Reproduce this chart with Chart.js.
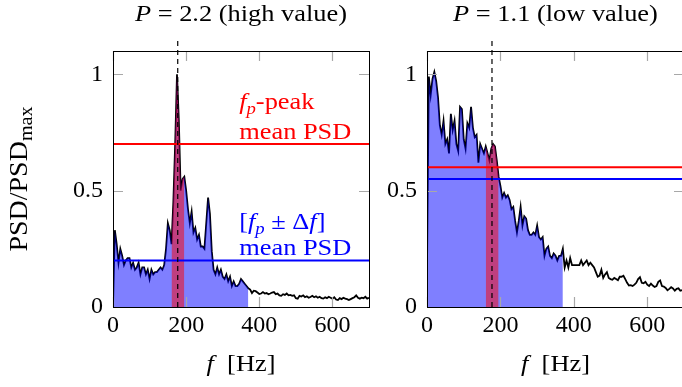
<!DOCTYPE html>
<html>
<head>
<meta charset="utf-8">
<script src="https://cdn.jsdelivr.net/npm/chart.js@4/dist/chart.umd.min.js"></script>
<style>
  body { margin: 0; background: #fff; }
  #wrap { position: relative; width: 682px; height: 387px; overflow: hidden; }
  canvas { position: absolute; top: 0; }
</style>
</head>
<body>
<div id="wrap">
  <canvas id="psdHighChart" width="380" height="387" style="left:0"></canvas>
  <canvas id="psdLowChart" width="320" height="387" style="left:380px"></canvas>
</div>
<script>
// Spectra sampled every 5 Hz, 0..700 Hz, normalised by their maximum
const FREQ_STEP = 5;

const psdHigh = [
  0.00, 0.33, 0.27, 0.19, 0.25, 0.22, 0.18, 0.20, 0.21, 0.21,
  0.17, 0.19, 0.16, 0.17, 0.19, 0.14, 0.17, 0.17, 0.14, 0.16,
  0.12, 0.16, 0.14, 0.15, 0.15, 0.16, 0.17, 0.16, 0.18, 0.25,
  0.36, 0.33, 0.27, 0.45, 0.70, 1.00, 0.80, 0.50, 0.55, 0.56,
  0.50, 0.42, 0.36, 0.41, 0.32, 0.34, 0.29, 0.31, 0.26, 0.26,
  0.25, 0.36, 0.47, 0.40, 0.24, 0.16, 0.14, 0.17, 0.14, 0.16,
  0.13, 0.12, 0.14, 0.11, 0.13, 0.09, 0.11, 0.09, 0.09, 0.10,
  0.12, 0.11, 0.10, 0.09, 0.08, 0.075, 0.06, 0.07, 0.068, 0.062,
  0.056, 0.058, 0.064, 0.058, 0.06, 0.055, 0.058, 0.062, 0.064, 0.055,
  0.058, 0.05, 0.048, 0.055, 0.052, 0.058, 0.05, 0.052, 0.048, 0.05,
  0.038, 0.036, 0.048, 0.045, 0.05, 0.042, 0.046, 0.04, 0.043, 0.048,
  0.042, 0.046, 0.04, 0.044, 0.038, 0.036, 0.042, 0.038, 0.044, 0.04,
  0.036, 0.042, 0.032, 0.03, 0.038, 0.034, 0.04, 0.036, 0.034, 0.03,
  0.034, 0.038, 0.042, 0.05, 0.04, 0.036, 0.04, 0.038, 0.044, 0.036,
  0.04
];

const psdLow = [
  0.17, 0.99, 0.91, 0.98, 1.01, 0.97, 0.90, 0.78, 0.74, 0.80,
  0.70, 0.72, 0.66, 0.83, 0.76, 0.80, 0.70, 0.67, 0.86, 0.85,
  0.72, 0.68, 0.79, 0.77, 0.86, 0.77, 0.73, 0.74, 0.62, 0.70,
  0.68, 0.66, 0.69, 0.66, 0.63, 0.68, 0.70, 0.69, 0.63, 0.56,
  0.52, 0.47, 0.49, 0.47, 0.48, 0.46, 0.42, 0.43, 0.37, 0.32,
  0.37, 0.43, 0.35, 0.39, 0.38, 0.33, 0.31, 0.31, 0.32, 0.31,
  0.35, 0.30, 0.29, 0.30, 0.22, 0.25, 0.26, 0.22, 0.21, 0.23,
  0.22, 0.20, 0.22, 0.22, 0.25, 0.17, 0.20, 0.17, 0.21, 0.18,
  0.18, 0.18, 0.18, 0.18, 0.20, 0.18, 0.19, 0.20, 0.18, 0.19,
  0.18, 0.17, 0.15, 0.13, 0.135, 0.16, 0.125, 0.14, 0.15, 0.125,
  0.12, 0.117, 0.125, 0.12, 0.115, 0.13, 0.13, 0.134, 0.12, 0.104,
  0.092, 0.094, 0.09, 0.096, 0.104, 0.12, 0.128, 0.104, 0.102, 0.108,
  0.096, 0.09, 0.1, 0.092, 0.086, 0.09, 0.108, 0.114, 0.09, 0.088,
  0.082, 0.072, 0.078, 0.085, 0.08, 0.07, 0.078, 0.08, 0.07, 0.072,
  0.066
];

const freq = psdHigh.map((_, i) => i * FREQ_STEP);

const F_PEAK = 177;      // Hz, dashed marker
const DELTA_F = 18;      // Hz, half width of the peak band
const BAND_LIMIT = 370;  // Hz, end of the shaded band
const peakMean = [0.70, 0.60];
const bandMean = [0.20, 0.55];

const xTicks = [0, 200, 400, 600];
const yTicks = [0, 0.5, 1];
const X_MAX = 700;
const Y_MAX = 1.1;

const SERIF = "'Liberation Serif', serif";
const FS = 24;
const STRETCH = 1.1;   // widen the text runs a little, closer to a TeX face
const TICK_LEN = 10;

function font(size, italic) {
  return (italic ? 'italic ' : '') + size + 'px ' + SERIF;
}

// draws a run of text pieces with their own fonts / offsets
function drawParts(ctx, parts, x, y, align, color, stretch) {
  const sx = stretch || STRETCH;
  let w = 0;
  parts.forEach(p => { ctx.font = p.font; w += ctx.measureText(p.text).width; });
  ctx.save();
  ctx.translate(align === 'center' ? x - w * sx / 2 : x, y);
  ctx.scale(sx, 1);
  ctx.textAlign = 'left';
  ctx.fillStyle = color || '#000';
  let cx = 0;
  parts.forEach(p => {
    ctx.font = p.font;
    ctx.fillText(p.text, cx, p.dy || 0);
    cx += ctx.measureText(p.text).width;
  });
  ctx.restore();
}

const rm = (t, s) => ({ text: t, font: font(s || FS, false) });
const it = (t, s) => ({ text: t, font: font(s || FS, true) });
const sub = (t, italic) => ({ text: t, font: font(17, italic), dy: 5 });

const panelDecor = {
  id: 'panelDecor',
  afterDatasetsDraw(chart) {
    const { ctx, chartArea: a, scales: { x, y } } = chart;
    ctx.save();
    ctx.strokeStyle = '#a8a8a8';
    ctx.lineWidth = 1.2;
    ctx.beginPath();
    xTicks.forEach(v => {
      const px = Math.round(x.getPixelForValue(v)) + 0.5;
      ctx.moveTo(px, a.bottom); ctx.lineTo(px, a.bottom - TICK_LEN);
      ctx.moveTo(px, a.top); ctx.lineTo(px, a.top + TICK_LEN);
    });
    yTicks.forEach(v => {
      const py = Math.round(y.getPixelForValue(v)) + 0.5;
      ctx.moveTo(a.left, py); ctx.lineTo(a.left + TICK_LEN, py);
      ctx.moveTo(a.right, py); ctx.lineTo(a.right - TICK_LEN, py);
    });
    ctx.stroke();
    ctx.strokeStyle = '#000';
    ctx.lineWidth = 1;
    ctx.strokeRect(a.left + 0.5, a.top + 0.5, a.width, a.height);
    ctx.restore();
  },
  afterDraw(chart, args, opts) {
    const { ctx, chartArea: a, scales: { x, y } } = chart;
    const cx = (a.left + a.right) / 2;
    ctx.save();
    ctx.textBaseline = 'alphabetic';
    drawParts(ctx, opts.title, cx, 21, 'center');
    drawParts(ctx, [it('f'), rm('  [Hz]')], cx, 371, 'center');

    if (opts.yLabel) {
      ctx.save();
      ctx.translate(27, (a.top + a.bottom) / 2);
      ctx.rotate(-Math.PI / 2);
      drawParts(ctx, [rm('PSD/PSD', 25), { text: 'max', font: font(18, false), dy: 5 }], 0, 0, 'center', '#000', 1.12);
      ctx.restore();
    }

    if (opts.notes) {
      const nx = x.getPixelForValue(345);
      drawParts(ctx, [it('f'), sub('p', true), rm('-peak')], nx, y.getPixelForValue(0.849), 'left', '#ff0000');
      drawParts(ctx, [rm('mean PSD')], nx, y.getPixelForValue(0.724), 'left', '#ff0000');
      drawParts(ctx, [rm('['), it('f'), sub('p', true), rm(' \u00b1 \u0394'), it('f'), rm(']')],
        nx, y.getPixelForValue(0.334), 'left', '#0000ff');
      drawParts(ctx, [rm('mean PSD')], nx, y.getPixelForValue(0.223), 'left', '#0000ff');
    }
    ctx.restore();
  }
};

function makePanel(id, psd, idx, title, yAxisWidth, rightPad, withLabels) {
  const pts = freq.map((f, i) => ({ x: f, y: psd[i] }));
  const line = { pointRadius: 0, tension: 0, fill: false };

  return new Chart(document.getElementById(id), {
    type: 'line',
    data: {
      datasets: [
        { ...line, data: pts, borderColor: '#000', borderWidth: 1.8, order: 5 },
        { ...line, data: pts.filter(p => p.x <= BAND_LIMIT), borderWidth: 0,
          backgroundColor: 'rgba(0, 0, 255, 0.5)', fill: 'origin', order: 4 },
        { ...line, data: pts.filter(p => p.x >= F_PEAK - DELTA_F && p.x <= F_PEAK + DELTA_F),
          borderWidth: 0, backgroundColor: 'rgba(255, 0, 0, 0.5)', fill: 'origin', order: 3 },
        { ...line, data: [{ x: 0, y: peakMean[idx] }, { x: X_MAX, y: peakMean[idx] }],
          borderColor: '#ff0000', borderWidth: 2, order: 2 },
        { ...line, data: [{ x: 0, y: bandMean[idx] }, { x: X_MAX, y: bandMean[idx] }],
          borderColor: '#0000ff', borderWidth: 2, order: 1 },
        { ...line, data: [{ x: F_PEAK, y: 0 }, { x: F_PEAK, y: 1.15 }],
          borderColor: '#000', borderWidth: 1.2, borderDash: [5, 4], clip: false, order: 0 }
      ]
    },
    options: {
      responsive: false,
      animation: false,
      events: [],
      layout: { padding: { left: 0, right: rightPad, top: 51, bottom: 0 } },
      plugins: {
        legend: { display: false },
        tooltip: { enabled: false },
        panelDecor: { title, yLabel: withLabels, notes: withLabels }
      },
      scales: {
        x: {
          type: 'linear',
          min: 0,
          max: X_MAX,
          afterBuildTicks: s => { s.ticks = xTicks.map(v => ({ value: v })); },
          afterFit: s => { s.height = 80; },
          grid: { display: false, drawTicks: false },
          border: { display: false },
          ticks: { color: '#000', padding: 4, maxRotation: 0, font: { family: SERIF, size: FS } }
        },
        y: {
          type: 'linear',
          min: 0,
          max: Y_MAX,
          afterBuildTicks: s => { s.ticks = yTicks.map(v => ({ value: v })); },
          afterFit: s => { s.width = yAxisWidth; },
          grid: { display: false, drawTicks: false },
          border: { display: false },
          ticks: { color: '#000', padding: 10, font: { family: SERIF, size: FS }, callback: v => String(v) }
        }
      }
    },
    plugins: [panelDecor]
  });
}

makePanel('psdHighChart', psdHigh, 0, [it('P'), rm(' = 2.2 (high value)')], 113, 11, true);
makePanel('psdLowChart', psdLow, 1, [it('P'), rm(' = 1.1 (low value)')], 47, 16, false);
</script>
</body>
</html>
